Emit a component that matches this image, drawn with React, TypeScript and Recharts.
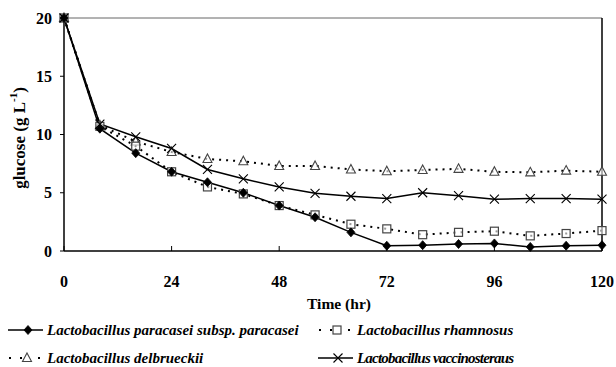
import React from "react";
import { LineChart, Line, XAxis, YAxis, ReferenceLine, Label } from "recharts";

const time = [0, 8, 16, 24, 32, 40, 48, 56, 64, 72, 80, 88, 96, 104, 112, 120];
const paracasei = [20, 10.5, 8.4, 6.8, 5.9, 5.0, 3.9, 2.9, 1.6, 0.45, 0.5, 0.6, 0.65, 0.35, 0.45, 0.5];
const rhamnosus = [20, 10.7, 9.0, 6.8, 5.5, 4.9, 3.9, 3.1, 2.3, 1.9, 1.4, 1.6, 1.7, 1.3, 1.5, 1.75];
const delbrueckii = [20, 10.8, 9.4, 8.5, 7.9, 7.7, 7.3, 7.3, 7.0, 6.85, 6.95, 7.05, 6.8, 6.75, 6.9, 6.8];
const vaccinosteraus = [20, 10.9, 9.8, 8.8, 7.0, 6.2, 5.5, 4.95, 4.7, 4.5, 5.0, 4.75, 4.45, 4.5, 4.5, 4.45];

const xTicks = [0, 24, 48, 72, 96, 120];
const yTicks = [0, 5, 10, 15, 20];

const seriesNames = [
  "Lactobacillus paracasei subsp. paracasei",
  "Lactobacillus rhamnosus",
  "Lactobacillus delbrueckii",
  "Lactobacillus vaccinosteraus",
];

const data = time.map((t, i) => ({
  t,
  a: paracasei[i],
  b: rhamnosus[i],
  c: delbrueckii[i],
  d: vaccinosteraus[i],
}));

const FONT = "'Liberation Serif', 'DejaVu Serif', serif";

const DiamondMark = ({ cx, cy }: any) => (
  <path d={`M${cx},${cy - 4.5} L${cx + 4},${cy} L${cx},${cy + 4.5} L${cx - 4},${cy} Z`} fill="#000" stroke="#000" strokeWidth={0.8} />
);
const SquareMark = ({ cx, cy }: any) => (
  <rect x={cx - 4} y={cy - 4} width={8} height={8} fill="#fff" fillOpacity={0.6} stroke="#444" strokeWidth={1.2} />
);
const TriangleMark = ({ cx, cy }: any) => (
  <path d={`M${cx},${cy - 5} L${cx + 4.5},${cy + 3.5} L${cx - 4.5},${cy + 3.5} Z`} fill="#fff" fillOpacity={0.6} stroke="#444" strokeWidth={1.1} />
);
const CrossMark = ({ cx, cy }: any) => (
  <path d={`M${cx - 4.5},${cy - 4.5} L${cx + 4.5},${cy + 4.5} M${cx + 4.5},${cy - 4.5} L${cx - 4.5},${cy + 4.5}`} stroke="#000" strokeWidth={1.1} fill="none" />
);

const dotFn = (Comp: any) => (props: any) => <Comp key={`d-${props.index}`} cx={props.cx} cy={props.cy} />;

const YLabel = () => {
  const cx = 19;
  const cy = 138;
  return (
    <text x={cx} y={cy} transform={`rotate(-90, ${cx}, ${cy})`} textAnchor="middle" dominantBaseline="central" fontFamily={FONT} fontWeight="bold" fontSize={17} fill="#000">
      glucose (g L<tspan dy={-6} fontSize={11}>-1</tspan><tspan dy={6}>)</tspan>
    </text>
  );
};

const LegendIcon = ({ kind }: { kind: number }) => {
  const w = 35;
  const h = 14;
  const cy = h / 2;
  const cx = kind >= 1 && kind <= 2 ? 19 : 20;
  const dotted = kind === 1 || kind === 2;
  return (
    <svg width={w} height={h} style={{ display: "block" }}>
      {dotted ? (
        <>
          <rect x={1} y={cy - 1} width={2} height={2} fill="#000" />
          <rect x={12} y={cy - 1} width={2} height={2} fill="#000" />
          <rect x={30} y={cy - 1} width={2} height={2} fill="#000" />
        </>
      ) : (
        <line x1={0} y1={cy} x2={w} y2={cy} stroke="#000" strokeWidth={1.6} />
      )}
      {kind === 0 && <DiamondMark cx={cx} cy={cy} />}
      {kind === 1 && <SquareMark cx={cx} cy={cy} />}
      {kind === 2 && <TriangleMark cx={cx} cy={cy} />}
      {kind === 3 && <CrossMark cx={cx} cy={cy} />}
    </svg>
  );
};

const LegendItem = ({ kind, left, top, spacing = 0 }: { kind: number; left: number; top: number; spacing?: number }) => (
  <div style={{ position: "absolute", left, top, display: "flex", alignItems: "center", gap: 4, whiteSpace: "nowrap" }}>
    <LegendIcon kind={kind} />
    <span style={{ fontFamily: FONT, fontWeight: "bold", fontStyle: "italic", fontSize: 15, color: "#000", lineHeight: "16px", letterSpacing: spacing }}>{seriesNames[kind]}</span>
  </div>
);

export default function App() {
  return (
    <div style={{ position: "absolute", left: 0, top: 0, width: 616, height: 367, background: "#fff" }}>
      <LineChart width={616} height={367} data={data} margin={{ top: 18, right: 14, left: 0, bottom: 56 }}>
        <XAxis
          dataKey="t"
          type="number"
          domain={[0, 120]}
          ticks={xTicks}
          tickSize={-5}
          tickMargin={30}
          height={60}
          axisLine={{ stroke: "#000", strokeWidth: 1.5 }}
          tickLine={{ stroke: "#000", strokeWidth: 1 }}
          tick={{ fontFamily: FONT, fontWeight: "bold", fontSize: 16, fill: "#000" }}
          interval={0}
        >
          <Label value="Time (hr)" position="insideBottom" offset={0} dy={-2} dx={6} style={{ fontFamily: FONT, fontWeight: "bold", fontSize: 15.5, fill: "#000" }} />
        </XAxis>
        <YAxis
          type="number"
          domain={[0, 20]}
          ticks={yTicks}
          width={64}
          tickSize={4}
          tickMargin={8}
          axisLine={{ stroke: "#000", strokeWidth: 1.5 }}
          tickLine={{ stroke: "#000", strokeWidth: 1 }}
          tick={{ fontFamily: FONT, fontWeight: "bold", fontSize: 16, fill: "#000" }}
          interval={0}
          label={<YLabel />}
        />
        <ReferenceLine y={20} stroke="#666" strokeWidth={1} ifOverflow="visible" />
        <ReferenceLine x={120} stroke="#000" strokeWidth={1.5} ifOverflow="visible" />
        <Line dataKey="c" stroke="#000" strokeWidth={2} strokeDasharray="2 5" dot={dotFn(TriangleMark)} isAnimationActive={false} />
        <Line dataKey="b" stroke="#000" strokeWidth={2} strokeDasharray="2 5" dot={dotFn(SquareMark)} isAnimationActive={false} />
        <Line dataKey="d" stroke="#000" strokeWidth={1.5} dot={dotFn(CrossMark)} isAnimationActive={false} />
        <Line dataKey="a" stroke="#000" strokeWidth={1.5} dot={dotFn(DiamondMark)} isAnimationActive={false} />
      </LineChart>
      <LegendItem kind={0} left={8} top={322} />
      <LegendItem kind={1} left={318} top={322} />
      <LegendItem kind={2} left={8} top={350} />
      <LegendItem kind={3} left={318} top={350} spacing={-0.8} />
    </div>
  );
}
